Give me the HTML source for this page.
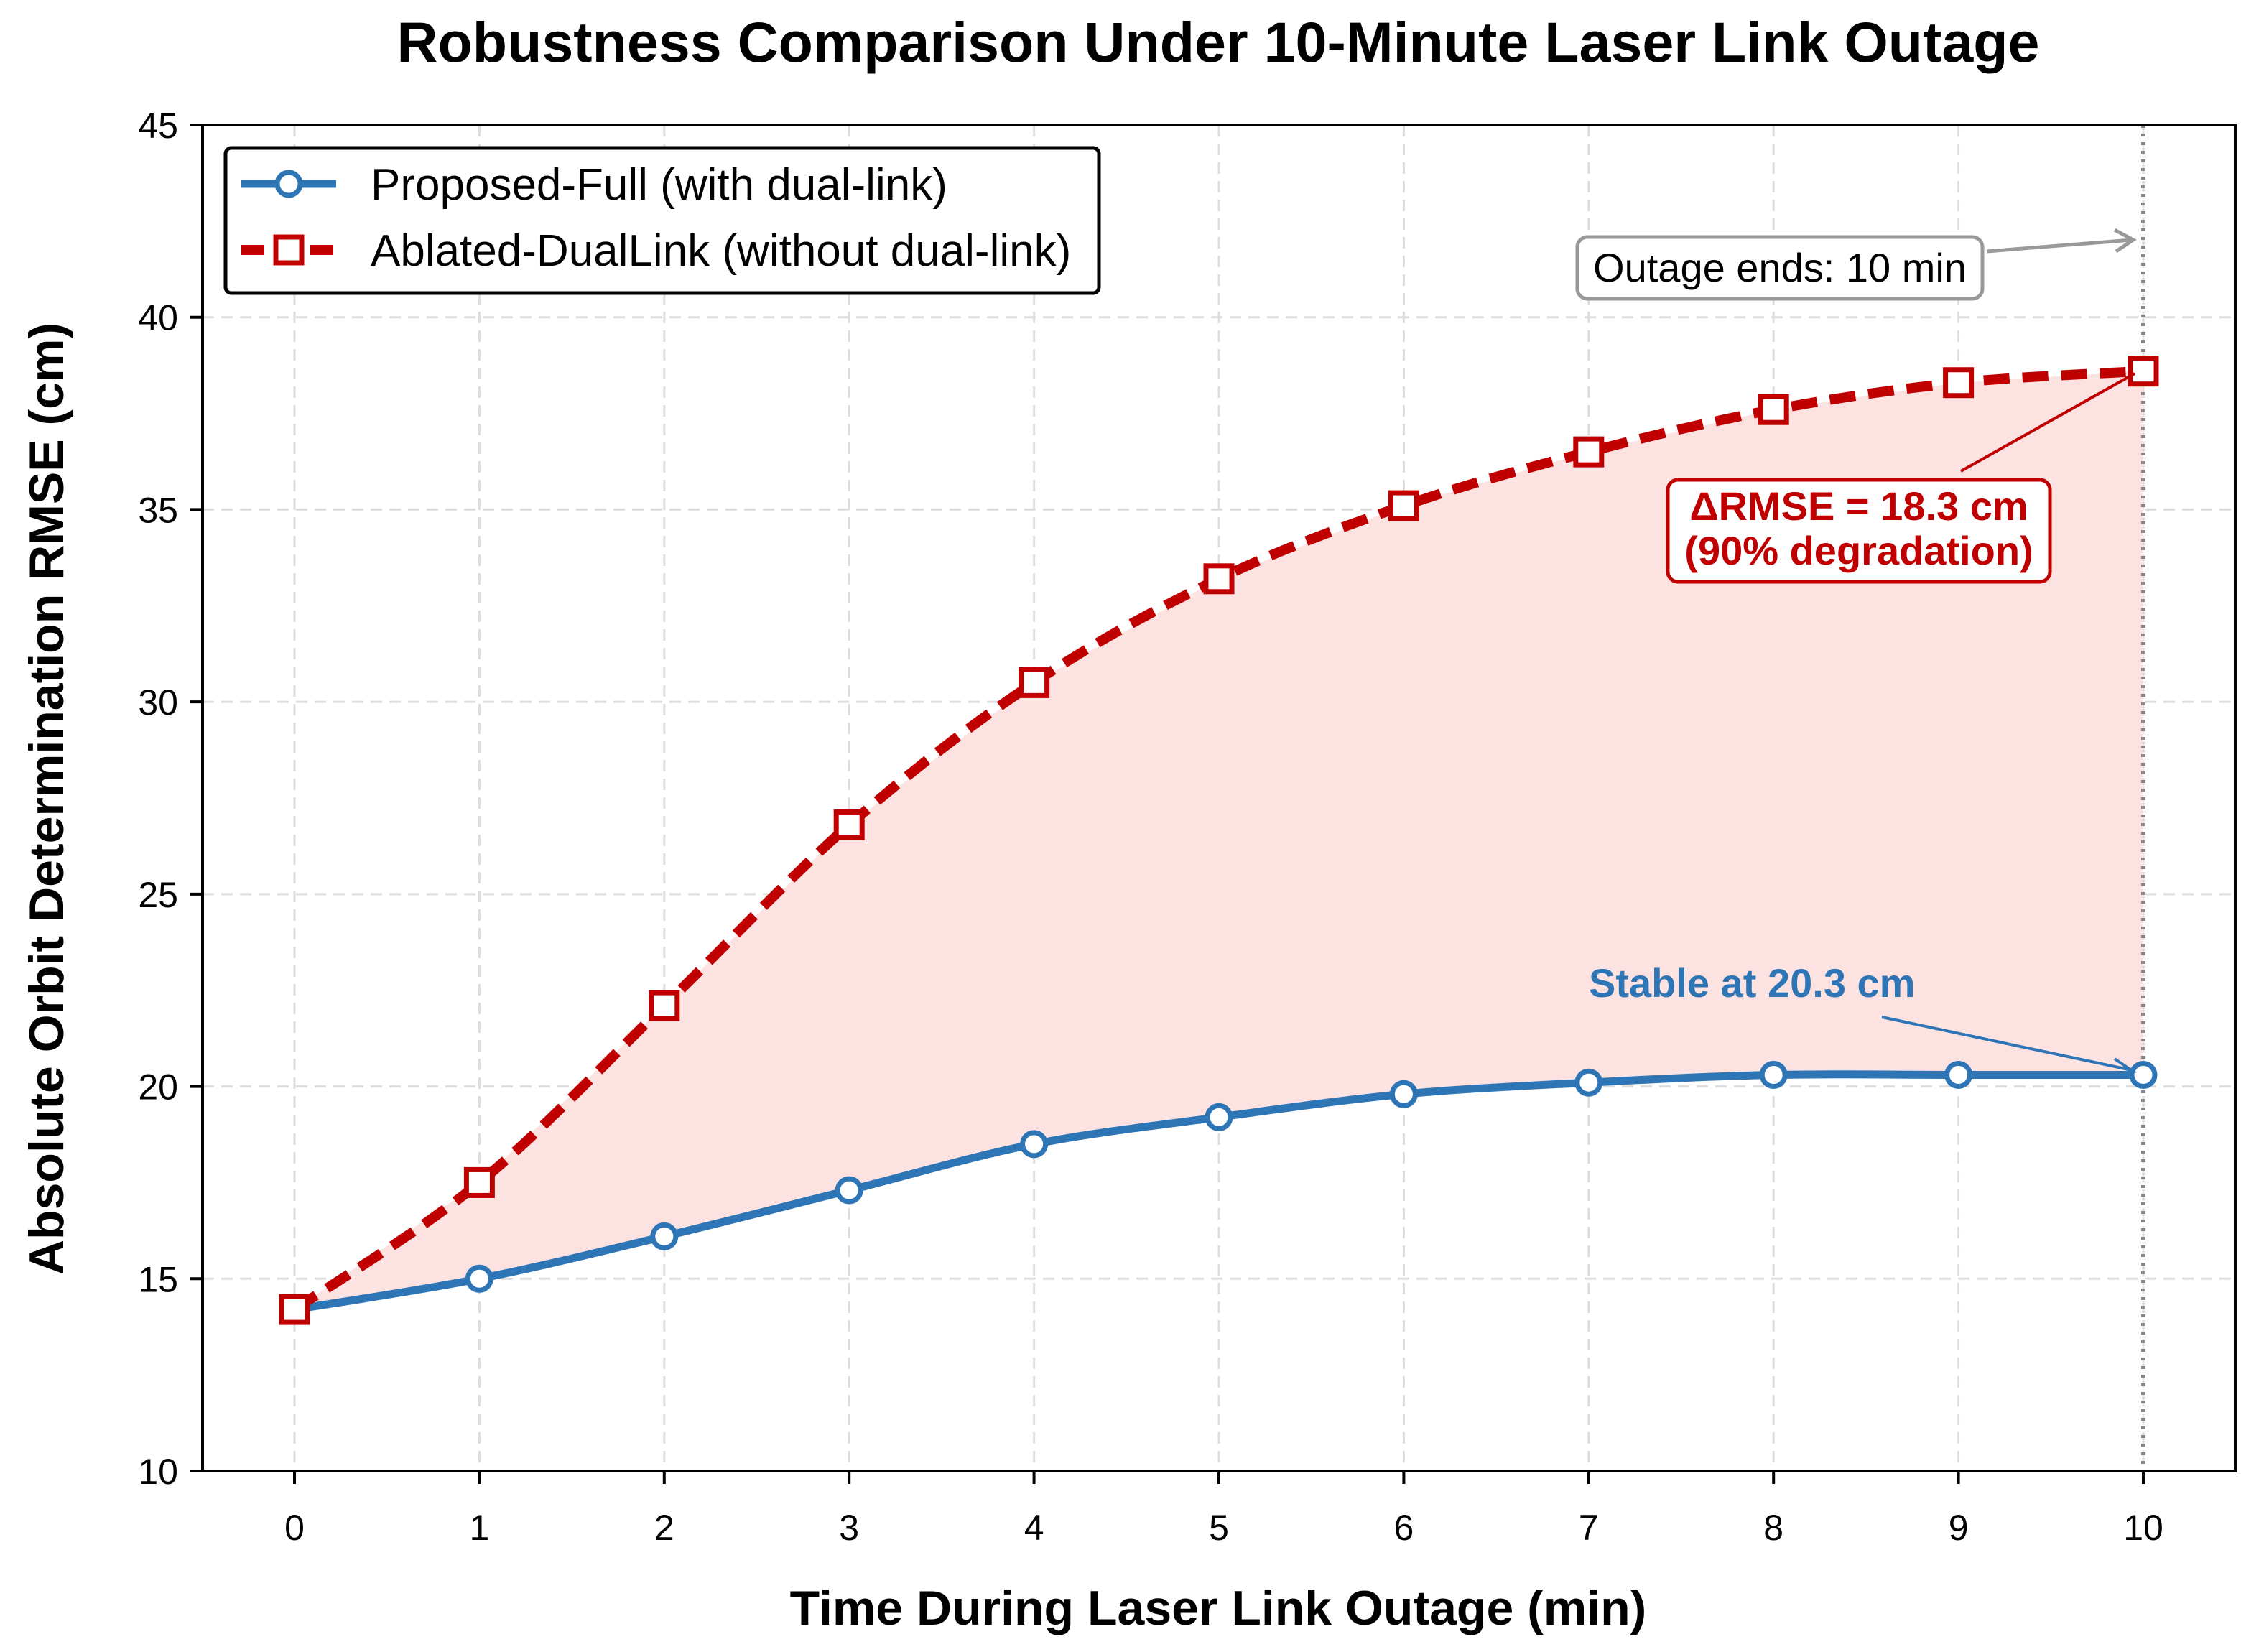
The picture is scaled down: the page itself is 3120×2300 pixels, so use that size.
<!DOCTYPE html>
<html><head><meta charset="utf-8"><style>
html,body{margin:0;padding:0;background:#fff;}
svg{display:block;font-family:"Liberation Sans",Arial,sans-serif;}
</style></head><body>
<svg id="chart" width="3120" height="2300" viewBox="0 0 1560 1150" xmlns="http://www.w3.org/2000/svg">
<rect width="1560" height="1150" fill="#fff"/>
<text x="848" y="43" text-anchor="middle" font-size="39.5" font-weight="bold">Robustness Comparison Under 10-Minute Laser Link Outage</text>
<g id="grid"></g>
<path id="fillArea" fill="#fde2e2" stroke="none"/>
<line id="vline" stroke="#888" stroke-width="3" stroke-dasharray="2,4"/>
<g id="series"></g>
<rect x="141" y="87" width="1415" height="937" fill="none" stroke="#000" stroke-width="2"/>
<g id="ticks"></g>
<text x="848" y="1131" text-anchor="middle" font-size="34" font-weight="bold">Time During Laser Link Outage (min)</text>
<text transform="translate(44,556) rotate(-90)" text-anchor="middle" font-size="34" font-weight="bold">Absolute Orbit Determination RMSE (cm)</text>
<g>
<rect x="157" y="103" width="608" height="101" rx="4" fill="#fff" stroke="#000" stroke-width="2.5"/>
<line x1="168" y1="128" x2="234" y2="128" stroke="#2e75b6" stroke-width="5.5"/>
<circle cx="201" cy="128" r="8" fill="#fff" stroke="#2e75b6" stroke-width="3.5"/>
<text x="258" y="139" font-size="31">Proposed-Full (with dual-link)</text>
<line x1="168" y1="174" x2="234" y2="174" stroke="#c00000" stroke-width="7" stroke-dasharray="16,8"/>
<rect x="192" y="165" width="18" height="18" fill="#fff" stroke="#c00000" stroke-width="3.5"/>
<text x="258" y="185" font-size="31">Ablated-DualLink (without dual-link)</text>
</g>
<g>
<rect x="1098" y="165" width="282" height="43" rx="7" fill="#fff" stroke="#999" stroke-width="2.5"/>
<text x="1239" y="196" text-anchor="middle" font-size="28">Outage ends: 10 min</text>
<line x1="1383" y1="175" x2="1484" y2="167" stroke="#999" stroke-width="2.5"/>
<path d="M1472,160 L1485,167 L1473,175" fill="none" stroke="#999" stroke-width="2.5"/>
</g>
<g>
<line x1="1365" y1="328" x2="1486" y2="260" stroke="#c00000" stroke-width="2"/>
<rect x="1161" y="334" width="266" height="71" rx="7" fill="#fff" stroke="#c00000" stroke-width="2.5"/>
<text x="1294" y="362" text-anchor="middle" font-size="28" font-weight="bold" fill="#c00000">ΔRMSE = 18.3 cm</text>
<text x="1294" y="393" text-anchor="middle" font-size="28" font-weight="bold" fill="#c00000">(90% degradation)</text>
</g>
<g>
<text x="1106" y="694" font-size="28" font-weight="bold" fill="#2e75b6">Stable at 20.3 cm</text>
<line x1="1310" y1="708" x2="1484" y2="745" stroke="#2e75b6" stroke-width="2"/>
<path d="M1472,737 L1485,746 L1470,749" fill="none" stroke="#2e75b6" stroke-width="2"/>
</g>
</svg>
<script>
const categories=[0,1,2,3,4,5,6,7,8,9,10];
const proposedValues=[14.2,15.0,16.1,17.3,18.5,19.2,19.8,20.1,20.3,20.3,20.3];
const ablatedValues=[14.2,17.5,22.1,26.8,30.5,33.2,35.1,36.5,37.6,38.3,38.6];
const yTicks=[10,15,20,25,30,35,40,45];
const xTicks=[0,1,2,3,4,5,6,7,8,9,10];
const NS="http://www.w3.org/2000/svg";
const xS=v=>205+(1492-205)*v/10;
const yS=v=>1024-(1024-87)*(v-10)/35;
function el(t,a,p){const e=document.createElementNS(NS,t);for(const k in a)e.setAttribute(k,a[k]);p.appendChild(e);return e;}
function smooth(pts){let d="M"+pts[0][0]+","+pts[0][1];for(let i=0;i<pts.length-1;i++){const p0=pts[Math.max(i-1,0)],p1=pts[i],p2=pts[i+1],p3=pts[Math.min(i+2,pts.length-1)];const c1=[p1[0]+(p2[0]-p0[0])/6,p1[1]+(p2[1]-p0[1])/6],c2=[p2[0]-(p3[0]-p1[0])/6,p2[1]-(p3[1]-p1[1])/6];d+=" C"+c1+" "+c2+" "+p2;}return d;}
const grid=document.getElementById('grid'),ticks=document.getElementById('ticks'),series=document.getElementById('series');
yTicks.forEach(v=>{const y=yS(v);
 if(v>10&&v<45){const g=el('line',{x1:141,x2:1556,y1:y,y2:y,stroke:'#ddd','stroke-width':1.5,'stroke-dasharray':'8,5'},grid);
 }
 el('line',{x1:132,x2:141,y1:y,y2:y,stroke:'#000','stroke-width':2},ticks);
 const t=el('text',{x:124,y:y+9,'text-anchor':'end','font-size':25},ticks);t.textContent=v;
 });
xTicks.forEach(v=>{const x=xS(v);
 const g=el('line',{x1:x,x2:x,y1:87,y2:1024,stroke:'#ddd','stroke-width':1.5,'stroke-dasharray':'8,5'},grid);
 
 el('line',{x1:x,x2:x,y1:1024,y2:1033,stroke:'#000','stroke-width':2},ticks);
 const t=el('text',{x:x,y:1072,'text-anchor':'middle','font-size':25},ticks);t.textContent=v;
 });
const vl=document.getElementById('vline');vl.setAttribute('x1',xS(10));vl.setAttribute('x2',xS(10));vl.setAttribute('y1',87);vl.setAttribute('y2',1024);
const bp=categories.map((c,i)=>[xS(c),yS(proposedValues[i])]);
const rp=categories.map((c,i)=>[xS(c),yS(ablatedValues[i])]);
let fd="M"+rp.map(p=>p.join(",")).join(" L")+" L"+bp.slice().reverse().map(p=>p.join(",")).join(" L")+"Z";
document.getElementById('fillArea').setAttribute('d',fd);
const bl=el('path',{d:smooth(bp),fill:'none',stroke:'#2e75b6','stroke-width':5.5},series);

const rl=el('path',{d:smooth(rp),fill:'none',stroke:'#c00000','stroke-width':7,'stroke-dasharray':'18,9'},series);

bp.forEach(p=>{const c=el('circle',{cx:p[0],cy:p[1],r:8,fill:'#fff',stroke:'#2e75b6','stroke-width':3.5},series);
 });
rp.forEach(p=>{const r=el('rect',{x:p[0]-9,y:p[1]-9,width:18,height:18,fill:'#fff',stroke:'#c00000','stroke-width':3.5},series);
 });
</script>
</body></html>
